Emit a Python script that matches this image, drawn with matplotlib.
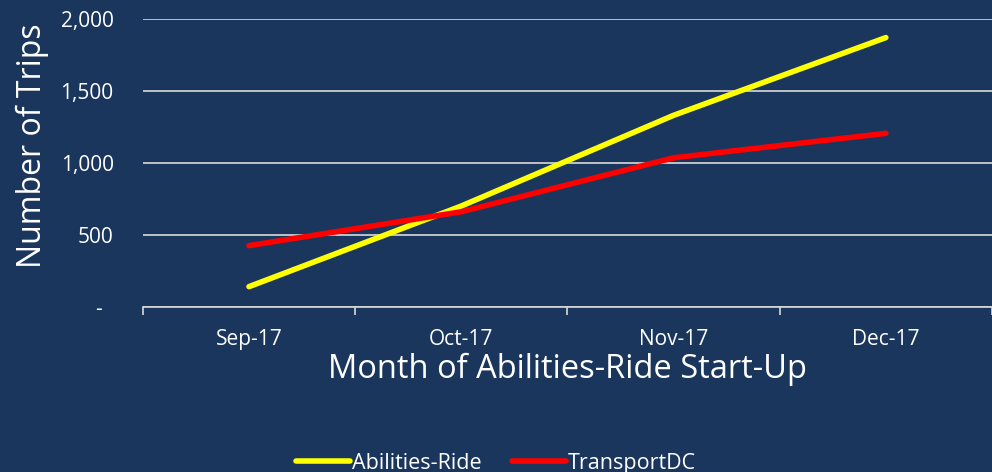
import matplotlib.pyplot as plt
import numpy as np
from matplotlib.ticker import FuncFormatter

months = ['Sep-17', 'Oct-17', 'Nov-17', 'Dec-17']
abilities_ride = [140, 700, 1330, 1870]
transport_dc = [425, 660, 1035, 1205]

bg = '#1a365d'
plt.rcParams['font.family'] = ['Open Sans', 'DejaVu Sans']

fig = plt.figure(figsize=(9.92, 4.72), dpi=100, facecolor=bg)
ax = fig.add_axes([0.144, 0.35, 0.856, 0.61], facecolor=bg)

x = np.arange(len(months))
ax.plot(x, abilities_ride, color='#ffff00', lw=4, solid_capstyle='round', label='Abilities-Ride')
ax.plot(x, transport_dc, color='#ff0000', lw=4, solid_capstyle='round', label='TransportDC')

ax.set_xlim(-0.5, 3.5)
ax.set_ylim(0, 2000)
ax.set_yticks([0, 500, 1000, 1500, 2000])
ax.yaxis.set_major_formatter(FuncFormatter(lambda v, p: '-  ' if v == 0 else f'{int(v):,}'))
ax.grid(axis='y', color='#d9d9d9', lw=1.2)
ax.set_axisbelow(True)

ax.set_xticks(np.arange(-0.5, 4, 1))
ax.set_xticklabels([])
ax.set_xticks(x, minor=True)
ax.set_xticklabels(months, minor=True)
ax.tick_params(axis='x', which='major', length=6, color='#d9d9d9', width=1.2, direction='out')
ax.tick_params(axis='x', which='minor', length=0, pad=16, labelsize=15, labelcolor='white')
ax.tick_params(axis='y', length=0, pad=21, labelsize=15, labelcolor='white')

for s in ['top', 'right', 'left']:
    ax.spines[s].set_visible(False)
ax.spines['bottom'].set_color('#d9d9d9')
ax.spines['bottom'].set_linewidth(1.2)

ax.set_ylabel('Number of Trips', color='white', fontsize=23)
ax.yaxis.set_label_coords(-0.11, 0.56)
ax.set_xlabel('Month of Abilities-Ride Start-Up', color='white', fontsize=23.5, labelpad=2)

leg = fig.legend(loc='lower center', bbox_to_anchor=(0.5, -0.045), ncol=2, frameon=False,
                 fontsize=15.5, handlelength=2.5, handletextpad=0.1, columnspacing=1.4)
for t in leg.get_texts():
    t.set_color('white')

fig.savefig('out.png', dpi=100, facecolor=bg)
